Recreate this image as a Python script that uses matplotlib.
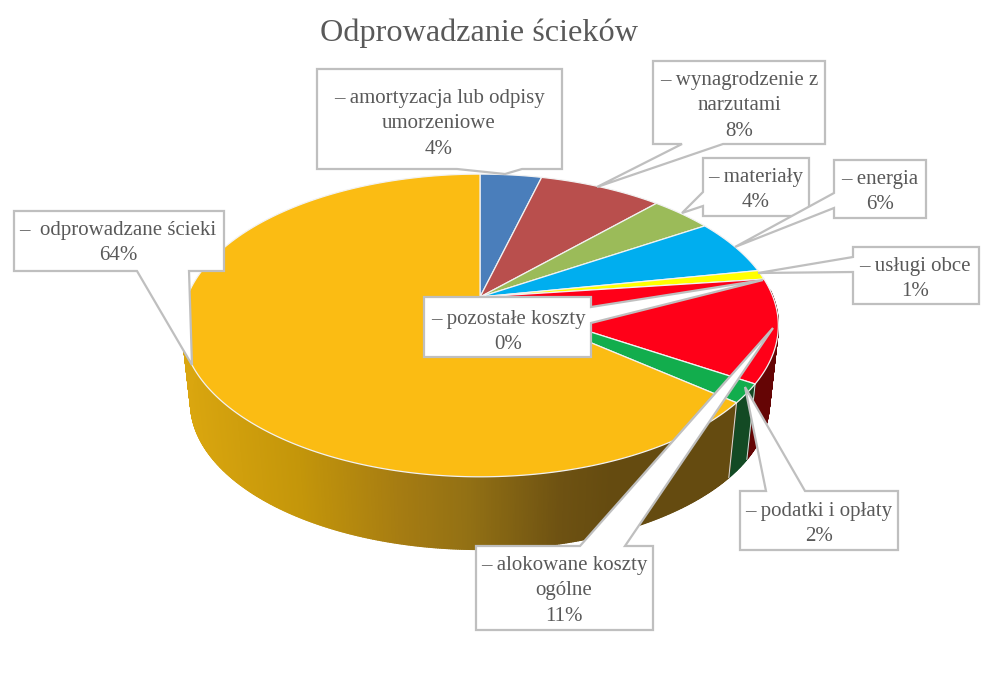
import numpy as np
import matplotlib
matplotlib.use("Agg")
import matplotlib.pyplot as plt
from matplotlib.collections import PolyCollection
from matplotlib.colors import to_rgb

# Slices, clockwise from 12 o'clock
labels = [
    "– amortyzacja lub odpisy\numorzeniowe\n4%",
    "– wynagrodzenie z\nnarzutami\n8%",
    "– materiały\n4%",
    "– energia\n6%",
    "– usługi obce\n1%",
    "– alokowane koszty\nogólne\n11%",
    "– podatki i opłaty\n2%",
    "– pozostałe koszty\n0%",
    "–  odprowadzane ścieki\n64%",
]
values = [4, 8, 4, 6, 1, 11, 2, 0, 64]
top_colors = ["#4a7ebb", "#b94f4d", "#9bbb59", "#00aeef", "#ffff00",
              "#ff0018", "#12ad4d", "#7f7f7f", "#fbbc13"]
wall_colors = ["#25405f", "#5e2827", "#4f5f2d", "#005878", "#808000",
               "#650505", "#134a24", "#404040", None]

# Gradient of the big slice's side, by pixel x
grad_x = [182, 300, 400, 470, 560, 610, 780]
grad_c = ["#dba70f", "#c4960a", "#a67c12", "#927014", "#6e5212", "#654b10", "#654b10"]

# Callouts in drawing order: slice index, box, side of the pointer, pointer (a, tip, b), text centre
boxes = [
    (0, (317, 69, 562, 169), "bottom", ((522, 169), (505, 174), (457, 169)), (439, 124)),
    (1, (653, 61, 825, 144), "bottom", ((723, 144), (597, 187), (682, 144)), (739, 106)),
    (2, (703, 158, 809, 216), "left", ((703, 206), (682, 213), (703, 192)), (756, 190)),
    (3, (834, 160, 926, 218), "left", ((834, 208), (735, 247), (834, 193)), (880, 192)),
    (4, (853, 247, 979, 304), "left", ((853, 272), (758, 273), (853, 257)), (915, 279)),
    (7, (424, 297, 591, 357), "right", ((591, 307), (763, 280), (591, 323)), (508, 332)),
    (6, (740, 491, 898, 550), "top", ((766, 491), (745, 387), (805, 491)), (819, 524)),
    (5, (476, 546, 653, 630), "top", ((580, 546), (773, 328), (625, 546)), (564, 591)),
    (8, (14, 211, 224, 271), "bottom", ((189, 271), (192, 365), (137, 271)), (118, 243)),
]

# Perspective of the pie's top face and of its lower rim
cx, cy = 480, 297
k, a, b = 0.188, 146, 293
shrink, drop = 0.97, 78


def project(theta, lower=False):
    u, v = np.sin(theta), np.cos(theta)
    w = 1 + k * v
    s = shrink if lower else 1
    d = drop if lower else 0
    return cx + s * b * u / w, cy + d - s * a * v / w


def lerp_color(x):
    rgb = np.array([to_rgb(c) for c in grad_c])
    return [np.interp(x, grad_x, rgb[:, i]) for i in range(3)]


def callout_outline(box, side, pointer):
    x0, y0, x1, y1 = box
    p = list(pointer)
    if side == "top":
        return [(x0, y0)] + p + [(x1, y0), (x1, y1), (x0, y1)]
    if side == "right":
        return [(x0, y0), (x1, y0)] + p + [(x1, y1), (x0, y1)]
    if side == "bottom":
        return [(x0, y0), (x1, y0), (x1, y1)] + p + [(x0, y1)]
    return [(x0, y0), (x1, y0), (x1, y1), (x0, y1)] + p


fig = plt.figure(figsize=(10.01, 6.97), dpi=100)
ax = fig.add_axes([0, 0, 1, 1])
ax.set_xlim(0, 1001)
ax.set_ylim(697, 0)
ax.axis("off")

edges = np.cumsum([0] + values) / sum(values) * 2 * np.pi

# Side wall first, only the part facing the viewer
quads, cols = [], []
for i in range(len(values)):
    th = np.linspace(edges[i], edges[i + 1], max(2, values[i] * 12))
    th = th[np.cos(th) < 0.05]
    for t0, t1 in zip(th[:-1], th[1:]):
        x0, y0 = project(t0)
        x1, y1 = project(t1)
        x2, y2 = project(t1, True)
        x3, y3 = project(t0, True)
        quads.append([(x0, y0), (x1, y1), (x2, y2), (x3, y3)])
        if wall_colors[i] is None:
            cols.append(lerp_color((x0 + x3) / 2))
        else:
            cols.append(wall_colors[i])
ax.add_collection(PolyCollection(quads, facecolors=cols, edgecolors=cols, linewidths=1.0, zorder=2))

# Light seams on the wall at slice boundaries
for e in edges[5:8]:
    x0, y0 = project(e)
    x1, y1 = project(e, True)
    ax.plot([x0, x1], [y0, y1], color="#dddddd", lw=0.7, zorder=3)

# Top face
for i in range(len(values)):
    if values[i] == 0:
        continue
    th = np.linspace(edges[i], edges[i + 1], max(3, values[i] * 6))
    xs, ys = project(th)
    ax.fill(np.r_[cx, xs], np.r_[cy, ys], facecolor=top_colors[i], edgecolor="#f2f2f2",
            lw=0.9, zorder=4)

# Callouts
z = 5
for idx, box, side, pointer, (tx, ty) in boxes:
    pts = callout_outline(box, side, pointer)
    ax.fill(*zip(*pts), facecolor="white", edgecolor="#bfbfbf", lw=1.6, zorder=z, joinstyle="miter")
    ax.text(tx, ty, labels[idx], ha="center", va="center", fontsize=15, color="#595959",
            family="Liberation Serif", linespacing=1.45, zorder=z + 0.5)
    z += 1

ax.text(479, 33, "Odprowadzanie ścieków", ha="center", va="center", fontsize=23.2,
        color="#595959", family="Liberation Serif")

fig.savefig("out.png", dpi=100)
